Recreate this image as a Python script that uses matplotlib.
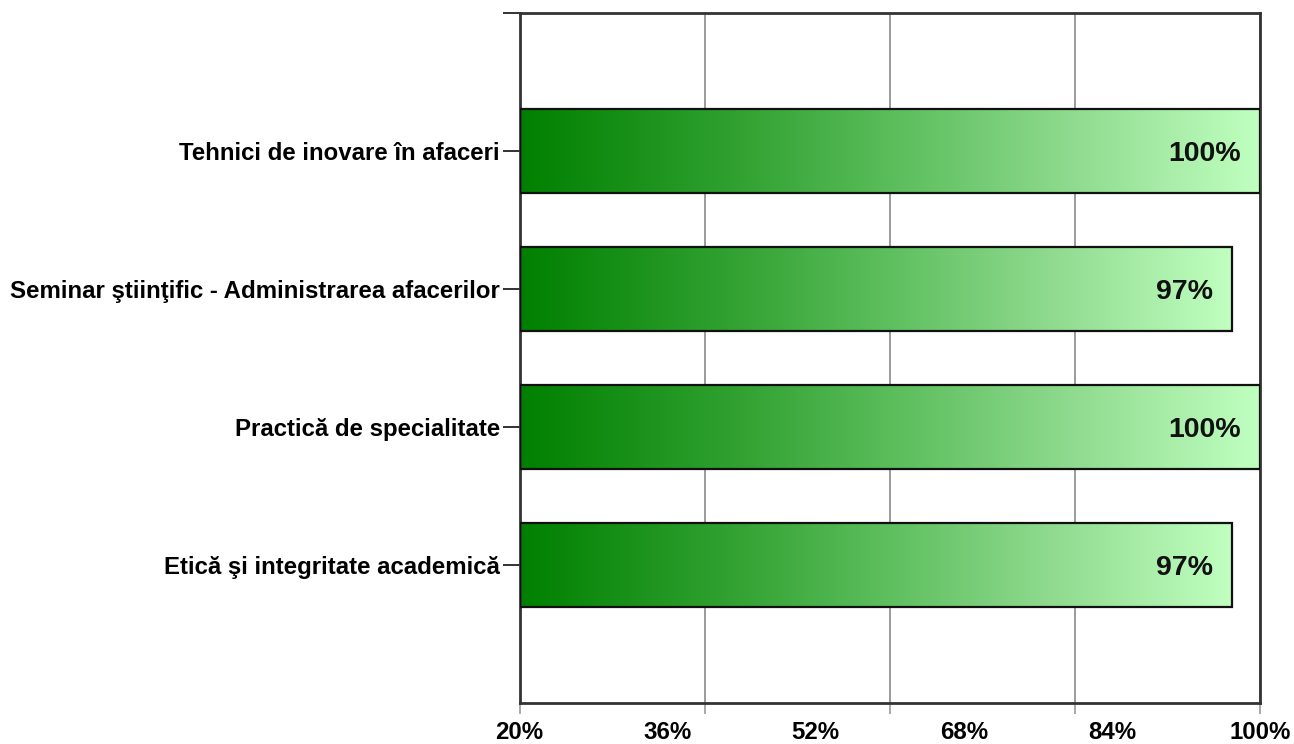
import matplotlib.pyplot as plt
import numpy as np
from matplotlib.colors import LinearSegmentedColormap

categories = ['Tehnici de inovare în afaceri',
              'Seminar ştiinţific - Administrarea afacerilor',
              'Practică de specialitate',
              'Etică şi integritate academică']
values = [100, 97, 100, 97]
label_ticks = [20, 36, 52, 68, 84, 100]
grid_ticks = [20, 40, 60, 80, 100]

plt.rcParams['font.family'] = ['Liberation Sans', 'DejaVu Sans']
plt.rcParams['font.weight'] = 'bold'

fig = plt.figure(figsize=(12.94, 7.44), dpi=100)
ax = fig.add_axes([519.5 / 1294, 1 - 703 / 744, (1260 - 519.5) / 1294, (703 - 13) / 744])

cmap = LinearSegmentedColormap.from_list(
    'gr', [(0, '#008000'), (0.3, '#32a232'), (0.5, '#5abd5a'), (0.75, '#90db90'), (1, '#c0ffc0')])
grad = np.linspace(0, 1, 256).reshape(1, -1)
h = 0.61
ypos = np.arange(1, len(categories) + 1)

for yy, v in zip(ypos, values):
    ax.imshow(grad, cmap=cmap, aspect='auto', extent=(20, v, yy + h / 2, yy - h / 2),
              zorder=2, interpolation='bilinear')
    ax.barh(yy, v - 20, left=20, height=h, facecolor='none', edgecolor='#111111',
            linewidth=1.6, zorder=3)
    ax.annotate(f'{v}%', (v, yy), xytext=(-14, -2), textcoords='offset points',
                ha='right', va='center', fontsize=20.5, fontweight='bold',
                color='#111111', zorder=4)

ax.set_xlim(20, 100)
ax.set_ylim(5, 0)
# gridlines / tick marks and tick labels sit at different positions
ax.xaxis.remove_overlapping_locs = False
ax.set_xticks(grid_ticks)
ax.set_xticklabels([])
ax.set_xticks(label_ticks, minor=True)
ax.set_xticklabels([f'{t}%' for t in label_ticks], minor=True, fontsize=17.3, fontweight='bold')
ax.set_yticks([0] + list(ypos))
ax.set_yticklabels([''] + categories, fontsize=17.3, fontweight='bold')
ax.grid(axis='x', which='major', color='#8a8a8a', linewidth=1.2, zorder=1)
ax.set_axisbelow(True)
ax.tick_params(axis='y', length=12, width=1.3, color='#222222', pad=2)
ax.tick_params(axis='x', which='major', length=8, width=1.2, color='#999999')
ax.tick_params(axis='x', which='minor', length=0, pad=13)
for s in ax.spines.values():
    s.set_color('#333333')
    s.set_linewidth(2)

fig.savefig('out.png', dpi=100)
